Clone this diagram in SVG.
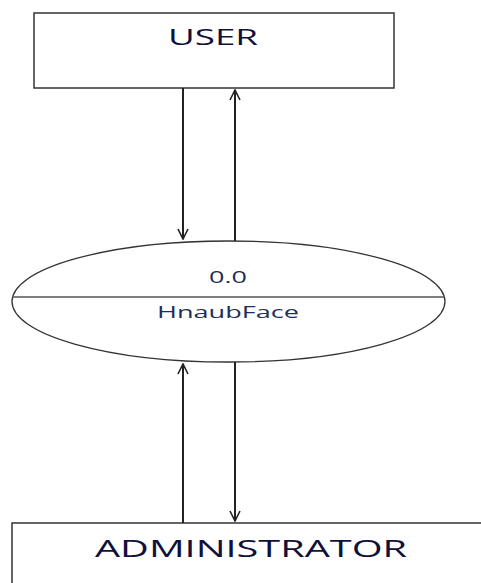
<svg xmlns="http://www.w3.org/2000/svg" width="481" height="583" viewBox="0 0 481 583">
<style>
.box{fill:#fff;stroke:#333;stroke-width:1.5}
.ln{stroke:#222;stroke-width:2;fill:none}
.t{font-family:"Open Sans","Noto Sans",sans-serif;text-anchor:middle}
</style>
<defs>
<marker id="ah" viewBox="0 0 12 12" refX="11" refY="6" markerWidth="12" markerHeight="12" markerUnits="userSpaceOnUse" orient="auto">
<path d="M1,1 L11,6 L1,11" fill="none" stroke="#222" stroke-width="1.6"/>
</marker>
</defs>
<rect width="481" height="583" fill="#fff"/>
<g id="user">
<rect class="box" x="34" y="13" width="360" height="75"/>
<text class="t" x="213" y="45" font-size="22" fill="#10103a" textLength="90" lengthAdjust="spacingAndGlyphs">USER</text>
</g>
<g id="process">
<ellipse cx="228.5" cy="301.5" rx="216.5" ry="60.5" fill="#fff" stroke="#333" stroke-width="1.3"/>
<line x1="12" y1="297" x2="445" y2="297" stroke="#555" stroke-width="1.5"/>
<text class="t" x="228" y="283" font-size="17" fill="#1e2e58" textLength="38" lengthAdjust="spacingAndGlyphs">0.0</text>
<text class="t" x="228" y="318" font-size="17" fill="#1e2e58" textLength="142" lengthAdjust="spacingAndGlyphs">HnaubFace</text>
</g>
<g id="admin">
<rect class="box" x="12" y="523" width="480" height="80"/>
<text class="t" x="251" y="557" font-size="24" fill="#10103a" textLength="312" lengthAdjust="spacingAndGlyphs">ADMINISTRATOR</text>
</g>
<g id="connectors">
<line class="ln" x1="183" y1="88" x2="183" y2="239" marker-end="url(#ah)"/>
<line class="ln" x1="235" y1="241" x2="235" y2="90" marker-end="url(#ah)"/>
<line class="ln" x1="183" y1="523" x2="183" y2="364" marker-end="url(#ah)"/>
<line class="ln" x1="235" y1="362" x2="235" y2="521" marker-end="url(#ah)"/>
</g>
</svg>
